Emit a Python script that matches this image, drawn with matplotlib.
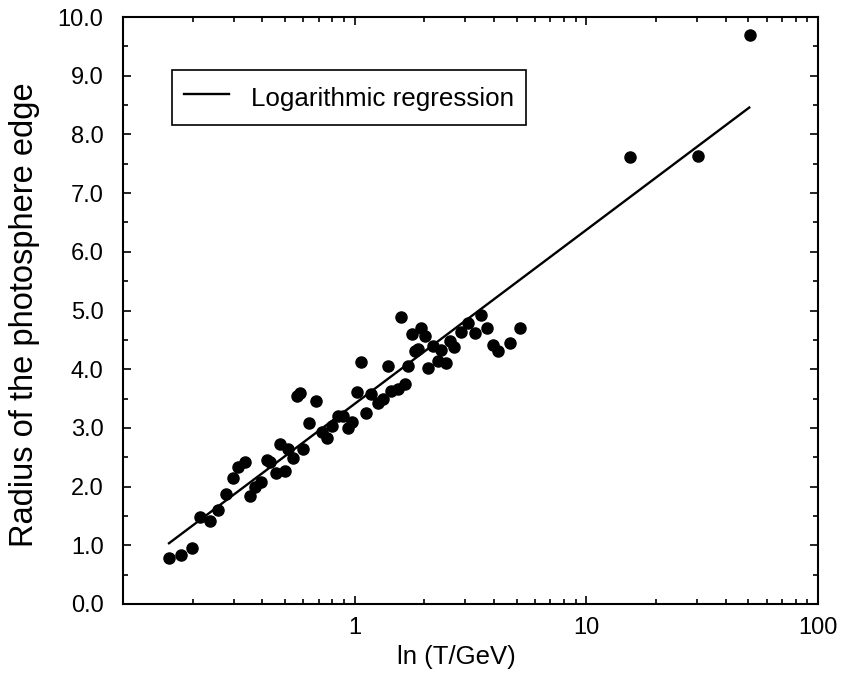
import numpy as np
import matplotlib.pyplot as plt
from matplotlib.ticker import MultipleLocator, FormatStrFormatter, FixedLocator, FixedFormatter

plt.rcParams['font.family'] = ['Liberation Sans', 'DejaVu Sans']

# Datos
temp_gev = [0.158, 0.178, 0.198, 0.216, 0.237, 0.257, 0.277, 0.299, 0.314, 0.336,
            0.355, 0.372, 0.395, 0.418, 0.430, 0.459, 0.478, 0.498, 0.518, 0.540,
            0.563, 0.582, 0.598, 0.636, 0.680, 0.720, 0.758, 0.796, 0.851, 0.894,
            0.940, 0.970, 1.02, 1.07, 1.12, 1.18, 1.26, 1.33, 1.39, 1.44,
            1.54, 1.59, 1.65, 1.70, 1.77, 1.83, 1.88, 1.94, 2.01, 2.07,
            2.18, 2.29, 2.37, 2.48, 2.57, 2.68, 2.88, 3.10, 3.31, 3.51,
            3.73, 3.95, 4.15, 4.66, 5.19, 15.5, 30.4, 51.0]
radio = [0.78, 0.84, 0.96, 1.48, 1.41, 1.60, 1.87, 2.14, 2.34, 2.42,
         1.84, 2.00, 2.08, 2.46, 2.42, 2.23, 2.72, 2.26, 2.64, 2.49,
         3.55, 3.60, 2.64, 3.08, 3.45, 2.93, 2.82, 3.04, 3.21, 3.21,
         2.99, 3.10, 3.62, 4.13, 3.26, 3.57, 3.42, 3.49, 4.06, 3.63,
         3.66, 4.89, 3.74, 4.06, 4.60, 4.31, 4.34, 4.70, 4.56, 4.02,
         4.40, 4.14, 4.32, 4.11, 4.48, 4.38, 4.64, 4.78, 4.61, 4.92,
         4.71, 4.41, 4.31, 4.44, 4.71, 7.62, 7.64, 9.70]

# Regresión logarítmica: r = a + b ln(T)
reg_a = 3.41
reg_b = 1.287
reg_x = [0.158, 50.5]

fig = plt.figure(figsize=(8.42, 6.82), dpi=100)
ax = fig.add_axes([123 / 842, 78 / 682, 695 / 842, 587 / 682])

ax.plot(temp_gev, radio, 'o', color='black', ms=8, mec='black')
xs = np.array(reg_x)
ax.plot(xs, reg_a + reg_b * np.log(xs), '-', color='black', lw=1.7,
        label='Logarithmic regression')

ax.set_xscale('log')
ax.set_xlim(0.1, 100)
ax.set_ylim(0, 10)
ax.xaxis.set_major_locator(FixedLocator([1, 10, 100]))
ax.xaxis.set_major_formatter(FixedFormatter(['1', '10', '100']))
ax.yaxis.set_major_locator(MultipleLocator(1))
ax.yaxis.set_minor_locator(MultipleLocator(0.5))
ax.yaxis.set_major_formatter(FormatStrFormatter('%.1f'))

ax.tick_params(which='both', direction='in', top=True, right=True, width=1.2)
ax.tick_params(which='major', length=6, labelsize=17)
ax.tick_params(axis='y', which='major', pad=14)
ax.tick_params(axis='x', which='major', pad=9)
ax.tick_params(which='minor', length=3.5)
ax.tick_params(axis='x', which='minor', labelbottom=False)
for s in ax.spines.values():
    s.set_linewidth(1.5)

ax.set_xlabel('ln (T/GeV)', fontsize=18.5)
ax.xaxis.set_label_coords(0.479, -0.07)
ax.set_ylabel('Radius of the photosphere edge', fontsize=23.5)
ax.yaxis.set_label_coords(-0.119, 0.493)

leg = ax.legend(loc='upper left', bbox_to_anchor=(0.0705, 0.91), fontsize=18.7,
                frameon=True, fancybox=False, edgecolor='black', framealpha=1,
                handlelength=1.75, handletextpad=0.85, borderpad=0.45,
                handleheight=1.5, borderaxespad=0)
leg.get_frame().set_linewidth(1.2)

fig.savefig('out.png', dpi=100)
